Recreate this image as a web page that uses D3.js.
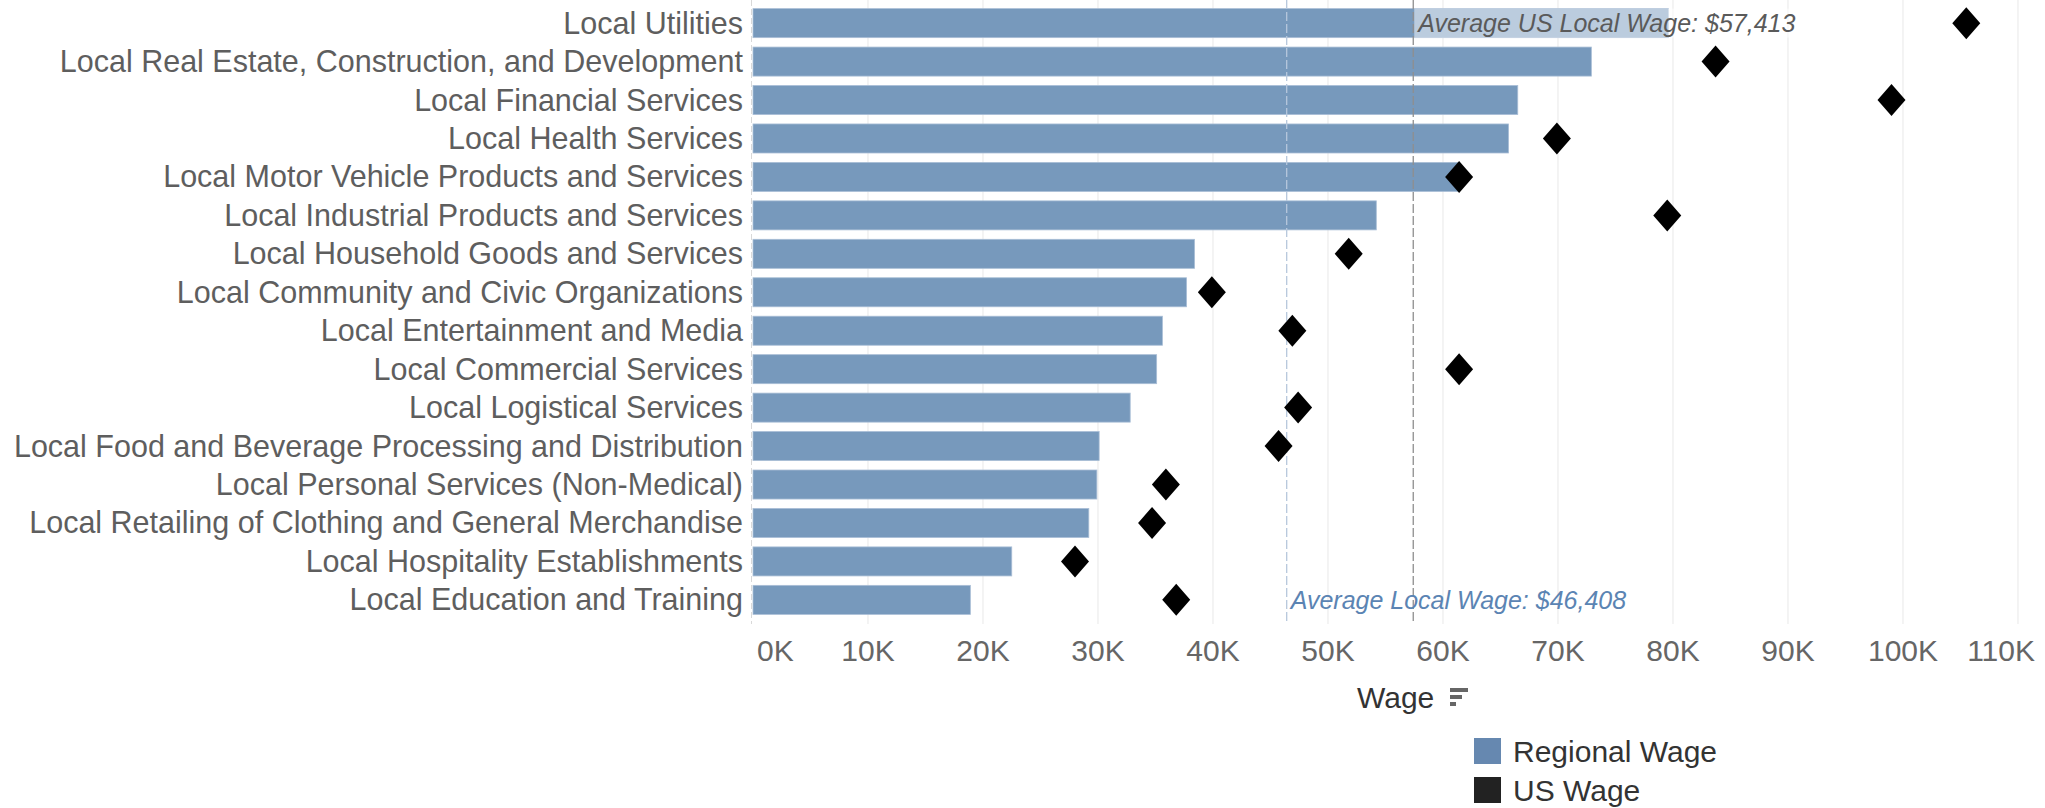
<!DOCTYPE html>
<html><head><meta charset="utf-8">
<script src="https://cdn.jsdelivr.net/npm/d3@7"></script>
<style>
html,body{margin:0;padding:0;background:#fff;}
svg{display:block;font-family:"Liberation Sans",Arial,sans-serif;}
</style></head>
<body>
<svg id="chart" width="2045" height="808"></svg>
<script>
const categories = [
  "Local Utilities",
  "Local Real Estate, Construction, and Development",
  "Local Financial Services",
  "Local Health Services",
  "Local Motor Vehicle Products and Services",
  "Local Industrial Products and Services",
  "Local Household Goods and Services",
  "Local Community and Civic Organizations",
  "Local Entertainment and Media",
  "Local Commercial Services",
  "Local Logistical Services",
  "Local Food and Beverage Processing and Distribution",
  "Local Personal Services (Non-Medical)",
  "Local Retailing of Clothing and General Merchandise",
  "Local Hospitality Establishments",
  "Local Education and Training"
];
const regionalWage = [79600, 72900, 66500, 65700, 61300, 54200, 38400, 37700, 35600, 35100, 32800, 30100, 29900, 29200, 22500, 18900];
const usWage = [105500, 83700, 99000, 69900, 61400, 79500, 51800, 39900, 46900, 61400, 47400, 45700, 35900, 34700, 28000, 36800];
const xTicks = [0,10000,20000,30000,40000,50000,60000,70000,80000,90000,100000,110000];
const tickLabels = ["0K","10K","20K","30K","40K","50K","60K","70K","80K","90K","100K","110K"];
const avgUSLocalWage = 57413;
const avgLocalWage = 46408;
const legendLabels = ["Regional Wage","US Wage"];
const legendColors = ["#6688b0","#222222"];

const svg = d3.select("#chart");
const x = d3.scaleLinear().domain([0,110000]).range([753,2018]);
const y = d3.scaleBand().domain(categories).range([4,619]).paddingInner(0.245).paddingOuter(0.12);

// gridlines
svg.append("g").selectAll("line").data(xTicks.slice(1)).join("line")
  .attr("x1",d=>x(d)).attr("x2",d=>x(d)).attr("y1",0).attr("y2",624)
  .attr("stroke","#ececec").attr("stroke-width",1.2);
svg.append("line").attr("x1",x(0)-1.5).attr("x2",x(0)-1.5).attr("y1",0).attr("y2",624)
  .attr("stroke","#d9d9d9").attr("stroke-width",1).attr("stroke-dasharray","6,3");

// bars
svg.append("g").selectAll("rect").data(categories).join("rect")
  .attr("x",x(0)).attr("y",d=>y(d))
  .attr("width",(d,i)=>x(regionalWage[i])-x(0)).attr("height",y.bandwidth())
  .attr("fill","#7799bc").attr("stroke","#a9bed6").attr("stroke-width",0.8);

// reference lines
svg.append("line").attr("x1",x(avgLocalWage)).attr("x2",x(avgLocalWage)).attr("y1",0).attr("y2",624)
  .attr("stroke","#b7c8dc").attr("stroke-width",1.3).attr("stroke-dasharray","9,3");
svg.append("line").attr("x1",x(avgUSLocalWage)).attr("x2",x(avgUSLocalWage)).attr("y1",0).attr("y2",624)
  .attr("stroke","#8e8e8e").attr("stroke-width",1.3).attr("stroke-dasharray","9,3");

// US avg label with translucent background
const usLab = svg.append("g");
const usText = usLab.append("text").attr("x",x(avgUSLocalWage)+5).attr("y",y(categories[0])+y.bandwidth()/2+9)
  .attr("font-size",25).attr("font-style","italic").attr("fill","#5a5a5a")
  .text("Average US Local Wage: $"+d3.format(",")(avgUSLocalWage));
const bb = usText.node().getBBox();
usLab.insert("rect","text").attr("x",x(avgUSLocalWage)+1).attr("y",y(categories[0]))
  .attr("width",bb.width+8).attr("height",y.bandwidth()).attr("fill","#fff").attr("opacity",0.5);

svg.append("text").attr("x",x(avgLocalWage)+4).attr("y",y(categories[15])+y.bandwidth()/2+9)
  .attr("font-size",25).attr("font-style","italic").attr("fill","#5b84b3")
  .text("Average Local Wage: $"+d3.format(",")(avgLocalWage));

// diamonds
const dw = 14, dh = 16;
svg.append("g").selectAll("path").data(categories).join("path")
  .attr("d",(d,i)=>{const cx=x(usWage[i]), cy=y(d)+y.bandwidth()/2;
    return `M${cx},${cy-dh}L${cx+dw},${cy}L${cx},${cy+dh}L${cx-dw},${cy}Z`;})
  .attr("fill","#000");

// category labels
svg.append("g").selectAll("text").data(categories).join("text")
  .attr("x",743).attr("y",d=>y(d)+y.bandwidth()/2+10.5)
  .attr("text-anchor","end").attr("font-size",30.5).attr("fill","#5e5e5e")
  .text(d=>d);

// tick labels
svg.append("g").selectAll("text").data(xTicks).join("text")
  .attr("x",(d,i)=> i===0 ? x(d)+4 : (i===xTicks.length-1 ? 2035 : x(d)))
  .attr("text-anchor",(d,i)=> i===0 ? "start" : (i===xTicks.length-1 ? "end" : "middle"))
  .attr("y",661).attr("font-size",30).attr("fill","#666")
  .text((d,i)=>tickLabels[i]);

// axis title
svg.append("text").attr("x",1357).attr("y",708).attr("font-size",30).attr("fill","#333").text("Wage");
const icon = svg.append("g").attr("fill","#666");
icon.append("rect").attr("x",1450).attr("y",688).attr("width",18).attr("height",4);
icon.append("rect").attr("x",1450).attr("y",695).attr("width",12).attr("height",4);
icon.append("rect").attr("x",1450).attr("y",702).attr("width",6).attr("height",4);

// legend
const lg = svg.append("g");
legendLabels.forEach((l,i)=>{
  lg.append("rect").attr("x",1474).attr("y",738+i*39).attr("width",27).attr("height",26).attr("fill",legendColors[i]);
  lg.append("text").attr("x",1513).attr("y",762+i*38.5).attr("font-size",30).attr("fill","#333").text(l);
});
</script>
</body></html>
